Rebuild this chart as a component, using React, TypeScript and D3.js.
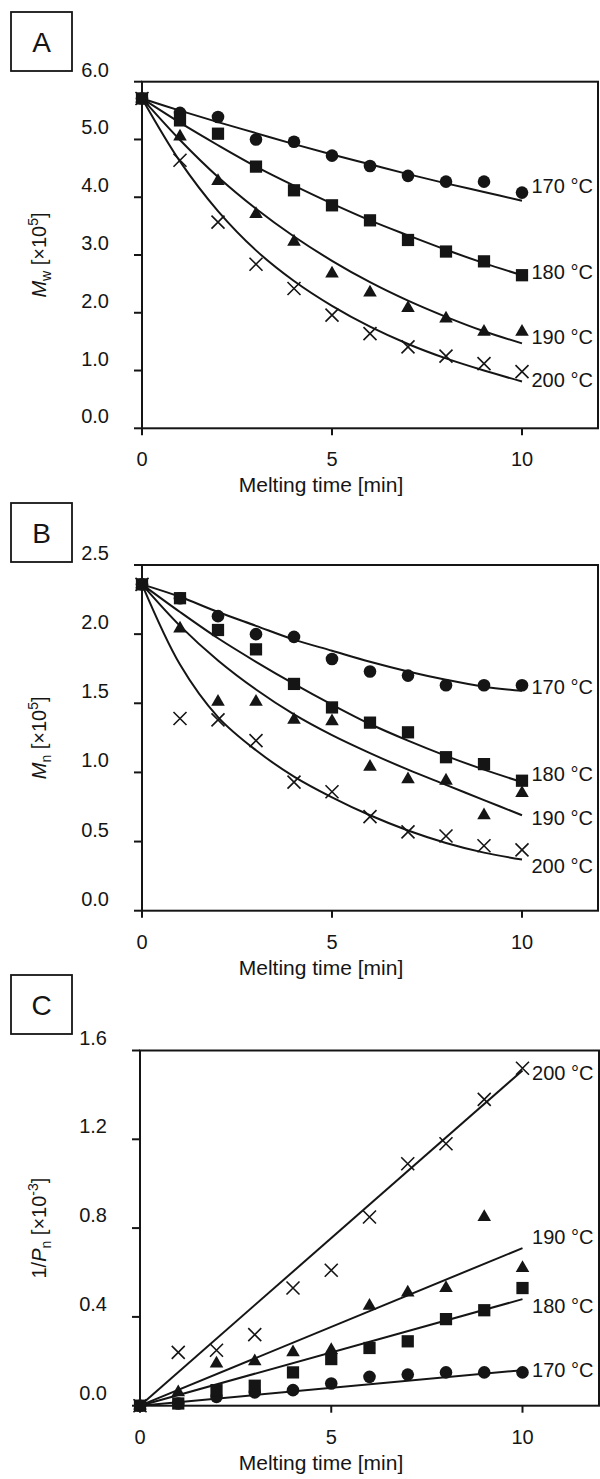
import * as d3 from 'd3';

// melting time, min
const time = [0, 1, 2, 3, 4, 5, 6, 7, 8, 9, 10];
const fitTimeC = [0, 10];
const xTicks = [0, 5, 10];
const temps = ['170 °C', '180 °C', '190 °C', '200 °C'];

// panel A: Mw [x10^5]
const mw170 = [5.71, 5.46, 5.39, 5.0, 4.96, 4.72, 4.54, 4.37, 4.27, 4.27, 4.08];
const mw180 = [5.71, 5.33, 5.1, 4.53, 4.12, 3.86, 3.6, 3.26, 3.06, 2.89, 2.65];
const mw190 = [5.71, 5.05, 4.28, 3.71, 3.23, 2.68, 2.35, 2.08, 1.9, 1.67, 1.67];
const mw200 = [5.71, 4.64, 3.57, 2.84, 2.42, 1.96, 1.64, 1.41, 1.25, 1.12, 0.98];
const fitMw170 = [5.71, 5.5, 5.3, 5.11, 4.92, 4.74, 4.57, 4.4, 4.24, 4.09, 3.94];
const fitMw180 = [5.71, 5.29, 4.9, 4.53, 4.2, 3.89, 3.6, 3.34, 3.09, 2.86, 2.65];
const fitMw190 = [5.71, 4.99, 4.35, 3.8, 3.32, 2.9, 2.53, 2.21, 1.93, 1.68, 1.47];
const fitMw200 = [5.71, 4.62, 3.76, 3.08, 2.55, 2.12, 1.76, 1.46, 1.21, 1.0, 0.81];
const labelMw = [4.19, 2.71, 1.58, 0.84];
const yTicksA = [0, 1, 2, 3, 4, 5, 6];

// panel B: Mn [x10^5]
const mn170 = [2.36, 2.26, 2.13, 2.0, 1.98, 1.82, 1.73, 1.7, 1.63, 1.63, 1.63];
const mn180 = [2.36, 2.26, 2.03, 1.89, 1.64, 1.47, 1.36, 1.29, 1.11, 1.06, 0.94];
const mn190 = [2.36, 2.04, 1.51, 1.51, 1.38, 1.37, 1.04, 0.95, 0.94, 0.69, 0.85];
const mn200 = [2.36, 1.39, 1.38, 1.23, 0.93, 0.86, 0.68, 0.57, 0.54, 0.47, 0.44];
const fitMn170 = [2.36, 2.27, 2.16, 2.06, 1.96, 1.88, 1.8, 1.73, 1.67, 1.62, 1.59];
const fitMn180 = [2.36, 2.16, 1.97, 1.8, 1.64, 1.49, 1.35, 1.23, 1.12, 1.02, 0.93];
const fitMn190 = [2.36, 2.06, 1.81, 1.6, 1.42, 1.27, 1.14, 1.02, 0.91, 0.8, 0.69];
const fitMn200 = [2.36, 1.78, 1.4, 1.16, 0.97, 0.82, 0.69, 0.58, 0.49, 0.42, 0.37];
const labelMn = [1.62, 0.99, 0.67, 0.32];
const yTicksB = [0, 0.5, 1, 1.5, 2, 2.5];

// panel C: 1/Pn [x10^-3]
const pn170 = [0, 0.01, 0.04, 0.06, 0.07, 0.1, 0.13, 0.14, 0.15, 0.15, 0.15];
const pn180 = [0, 0.01, 0.07, 0.09, 0.15, 0.21, 0.26, 0.29, 0.39, 0.43, 0.53];
const pn190 = [0, 0.06, 0.19, 0.2, 0.24, 0.25, 0.45, 0.51, 0.53, 0.85, 0.62];
const pn200 = [0, 0.24, 0.25, 0.32, 0.53, 0.61, 0.85, 1.09, 1.18, 1.38, 1.52];
const fitPn170 = [0, 0.16];
const fitPn180 = [0, 0.48];
const fitPn190 = [0, 0.71];
const fitPn200 = [0, 1.51];
const labelPn = [0.16, 0.45, 0.76, 1.5];
const yTicksC = [0, 0.4, 0.8, 1.2, 1.6];

const markers = ['circle', 'square', 'triangle', 'cross'];

const FONT = '"Liberation Sans", Arial, Helvetica, sans-serif';
const INK = '#151515';

const Marker = ({ kind, x, y }) => {
  if (kind === 'cross') {
    const s = 6.5;
    return (
      <path
        d={`M${x - s},${y - s}L${x + s},${y + s}M${x - s},${y + s}L${x + s},${y - s}`}
        stroke={INK}
        strokeWidth={1.6}
        fill="none"
      />
    );
  }
  const type = kind === 'circle' ? d3.symbolCircle : kind === 'square' ? d3.symbolSquare : d3.symbolTriangle;
  const size = kind === 'circle' ? 125 : kind === 'square' ? 150 : 80;
  return <path transform={`translate(${x},${y})`} d={d3.symbol().type(type).size(size)()} fill={INK} />;
};

const Panel = ({ letter, boxTop, left, right, top, bottom, yMax, yTicks, labelShift, points, fits, fitX, smooth, labelY, yLabel }) => {
  const x = d3.scaleLinear().domain([0, 12]).range([left, right]);
  const y = d3.scaleLinear().domain([0, yMax]).range([bottom, top]);
  const line = d3.line()
    .x(d => x(d[0]))
    .y(d => y(d[1]))
    .curve(smooth ? d3.curveCatmullRom.alpha(0.5) : d3.curveLinear);

  return (
    <g fontFamily={FONT} fill={INK}>
      <rect x={11} y={boxTop} width={61} height={59} fill="none" stroke={INK} strokeWidth={1.8} />
      <text x={41.5} y={boxTop + 40} fontSize={28} textAnchor="middle">{letter}</text>

      <rect x={left} y={top} width={right - left} height={bottom - top} fill="none" stroke={INK} strokeWidth={2} />

      {yTicks.map(t => (
        <g key={'y' + t}>
          <line x1={left - 8} x2={left} y1={y(t)} y2={y(t)} stroke={INK} strokeWidth={2} />
          <text x={left - 33} y={y(t) - labelShift + 7} fontSize={20} textAnchor="end">{d3.format('.1f')(t)}</text>
        </g>
      ))}
      {xTicks.map(t => (
        <g key={'x' + t}>
          <line x1={x(t)} x2={x(t)} y1={bottom} y2={bottom + 7} stroke={INK} strokeWidth={2} />
          <text x={x(t)} y={bottom + 38} fontSize={20} textAnchor="middle">{t}</text>
        </g>
      ))}
      <text x={321} y={bottom + 64} fontSize={21} textAnchor="middle">Melting time [min]</text>
      <text transform={`translate(46,${(top + bottom) / 2}) rotate(-90)`} fontSize={20} textAnchor="middle">{yLabel}</text>

      {fits.map((f, i) => (
        <path key={'f' + i} d={line(fitX.map((t, j) => [t, f[j]]))} fill="none" stroke={INK} strokeWidth={2} />
      ))}
      {points.map((s, i) => s.map((v, j) => (
        <Marker key={`m${i}-${j}`} kind={markers[i]} x={x(time[j])} y={y(v)} />
      )))}
      {temps.map((l, i) => (
        <text key={'l' + i} x={x(10.25)} y={y(labelY[i]) + 7} fontSize={20}>{l}</text>
      ))}
    </g>
  );
};

export default function App() {
  return (
    <svg width={600} height={1479} style={{ position: 'absolute', left: 0, top: 0, background: '#fff' }}>
      <rect width={600} height={1479} fill="#fff" />
      <Panel
        letter="A" boxTop={12} left={142} right={598} top={81.7} bottom={428.3}
        yMax={6} yTicks={yTicksA} labelShift={12}
        points={[mw170, mw180, mw190, mw200]}
        fits={[fitMw170, fitMw180, fitMw190, fitMw200]}
        fitX={time} smooth labelY={labelMw}
        yLabel={<><tspan fontStyle="italic">M</tspan><tspan fontSize={14} dy={5}>w</tspan><tspan dy={-5}> [×10</tspan><tspan fontSize={14} dy={-8}>5</tspan><tspan dy={8}>]</tspan></>}
      />
      <Panel
        letter="B" boxTop={503} left={142} right={598} top={565} bottom={910.7}
        yMax={2.5} yTicks={yTicksB} labelShift={12}
        points={[mn170, mn180, mn190, mn200]}
        fits={[fitMn170, fitMn180, fitMn190, fitMn200]}
        fitX={time} smooth labelY={labelMn}
        yLabel={<><tspan fontStyle="italic">M</tspan><tspan fontSize={14} dy={5}>n</tspan><tspan dy={-5}> [×10</tspan><tspan fontSize={14} dy={-8}>5</tspan><tspan dy={8}>]</tspan></>}
      />
      <Panel
        letter="C" boxTop={975} left={140} right={599} top={1050.5} bottom={1405.7}
        yMax={1.6} yTicks={yTicksC} labelShift={13}
        points={[pn170, pn180, pn190, pn200]}
        fits={[fitPn170, fitPn180, fitPn190, fitPn200]}
        fitX={fitTimeC} smooth={false} labelY={labelPn}
        yLabel={<><tspan>1/</tspan><tspan fontStyle="italic">P</tspan><tspan fontSize={14} dy={5}>n</tspan><tspan dy={-5}> [×10</tspan><tspan fontSize={14} dy={-8}>-3</tspan><tspan dy={8}>]</tspan></>}
      />
    </svg>
  );
}
